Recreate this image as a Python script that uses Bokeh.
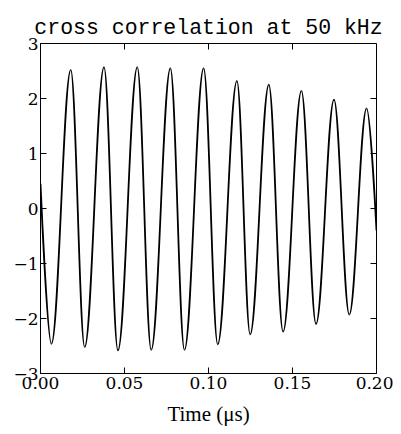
import numpy as np
from bokeh.plotting import figure
from bokeh.models import FixedTicker, Range1d, ColumnDataSource, PrintfTickFormatter
from bokeh.embed import file_html
from bokeh.resources import INLINE

# Extrema (and end points) of the cross-correlation trace
ext_time = [0.0, 0.0065, 0.0180, 0.0263, 0.0378, 0.0461, 0.0576, 0.0659, 0.0773, 0.0857,
            0.0971, 0.1055, 0.1169, 0.1248, 0.1359, 0.1444, 0.1553, 0.1640, 0.1747, 0.1838,
            0.1941, 0.2000]
ext_value = [0.45, -2.46, 2.52, -2.52, 2.57, -2.58, 2.57, -2.57, 2.55, -2.57,
             2.55, -2.47, 2.32, -2.29, 2.25, -2.24, 2.14, -2.10, 1.98, -1.93,
             1.82, -0.40]

x_ticks = [0.0, 0.05, 0.10, 0.15, 0.20]
y_ticks = [-3, -2, -1, 0, 1, 2, 3]
y_tick_labels = ["\u22123", "\u22122", "\u22121", "0", "1", "2", "3"]

title_text = "cross correlation at 50 kHz"
x_label = "Time (\u03bcs)"

X_MIN, X_MAX = 0.0, 0.2
Y_MIN, Y_MAX = -3.0, 3.0

p = figure(width=393, height=428, x_range=Range1d(X_MIN, X_MAX), y_range=Range1d(Y_MIN, Y_MAX),
           output_backend="svg", toolbar_location=None,
           min_border_left=40, min_border_right=17, min_border_top=43, min_border_bottom=52,
           x_axis_label=x_label)

p.title.text = title_text
p.title.align = "center"
p.title.offset = 3
p.title.text_font = "Liberation Mono"
p.title.text_font_size = "21.5px"
p.title.text_font_style = "normal"
p.title.text_color = "black"
p.title.standoff = 7

p.xgrid.visible = False
p.ygrid.visible = False
p.outline_line_color = "black"
p.outline_line_width = 1
p.background_fill_color = "white"
p.border_fill_color = "white"

# smooth trace: one cubic bezier per half-cycle between consecutive extrema
t = np.array(ext_time)
v = np.array(ext_value)
x0, x1 = t[:-1], t[1:]
y0, y1 = v[:-1], v[1:]
dt = x1 - x0
k = 1 - 2 / np.pi
cx0 = x0 + k * dt
cy0 = y0.copy()
cx1 = x1 - k * dt
cy1 = y1.copy()
# first and last points lie mid-flank: no horizontal tangent there
cx0[0], cy0[0] = x0[0], y0[0]
cx1[-1], cy1[-1] = x1[-1], y1[-1]
src = ColumnDataSource(dict(x0=x0, y0=y0, x1=x1, y1=y1, cx0=cx0, cy0=cy0, cx1=cx1, cy1=cy1))
p.bezier(x0="x0", y0="y0", x1="x1", y1="y1", cx0="cx0", cy0="cy0", cx1="cx1", cy1="cy1",
         source=src, line_color="black", line_width=1.8)

# inward ticks on the top and right frame edges
p.ray(x=x_ticks, y=[Y_MAX] * len(x_ticks), length=6, length_units="screen",
      angle=-90, angle_units="deg", line_color="black", line_width=1)
p.ray(x=[X_MAX] * len(y_ticks), y=y_ticks, length=6, length_units="screen",
      angle=180, angle_units="deg", line_color="black", line_width=1)

def style_axis(ax):
    ax.axis_line_color = "black"
    ax.major_tick_line_color = "black"
    ax.major_tick_in = 6
    ax.major_tick_out = 0
    ax.minor_tick_line_color = None
    ax.major_label_text_color = "black"

xa = p.xaxis[0]
style_axis(xa)
xa.ticker = FixedTicker(ticks=x_ticks)
xa.formatter = PrintfTickFormatter(format="%.2f")
xa.major_label_text_font = "DejaVu Serif"
xa.major_label_text_font_size = "17px"
xa.major_label_standoff = 3
xa.axis_label_text_font = "Liberation Serif"
xa.axis_label_text_font_size = "21px"
xa.axis_label_text_font_style = "normal"
xa.axis_label_text_color = "black"
xa.axis_label_standoff = 10

ya = p.yaxis[0]
style_axis(ya)
ya.ticker = FixedTicker(ticks=y_ticks)
ya.major_label_overrides = dict(zip(y_ticks, y_tick_labels))
ya.major_label_text_font = "DejaVu Serif"
ya.major_label_text_font_size = "17px"
ya.major_label_standoff = 2

open("out.html", "w").write(file_html(p, INLINE))
